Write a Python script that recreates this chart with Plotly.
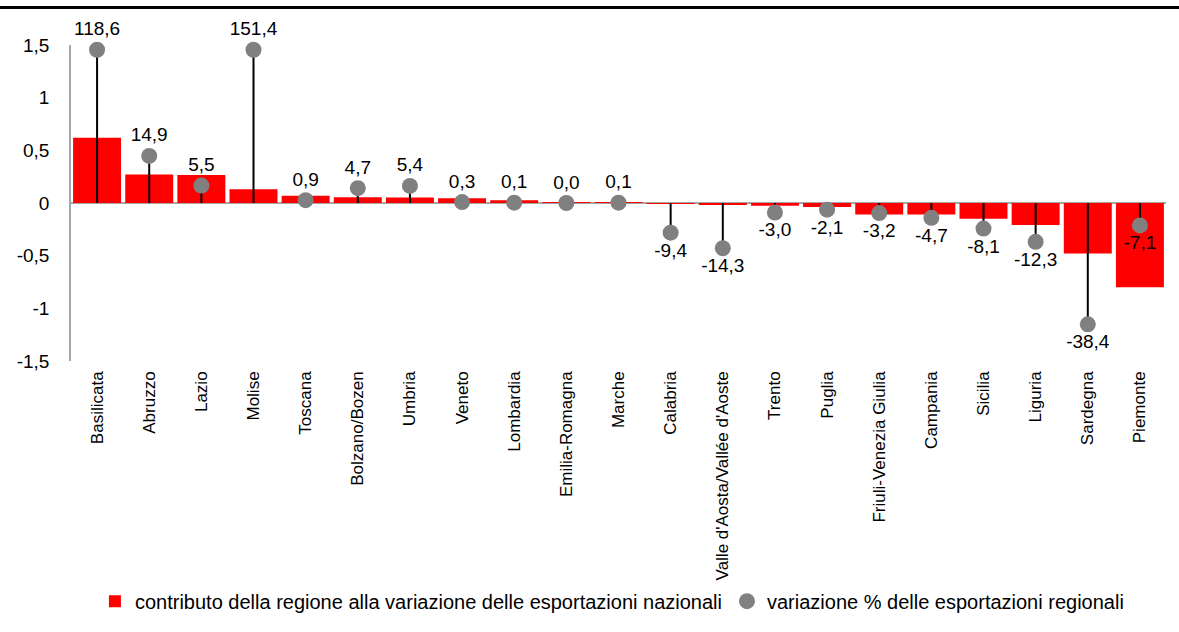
import plotly.graph_objects as go
import numpy as np

regions = ["Basilicata", "Abruzzo", "Lazio", "Molise", "Toscana", "Bolzano/Bozen",
           "Umbria", "Veneto", "Lombardia", "Emilia-Romagna", "Marche", "Calabria",
           "Valle d'Aosta/Vallée d'Aoste", "Trento", "Puglia", "Friuli-Venezia Giulia",
           "Campania", "Sicilia", "Liguria", "Sardegna", "Piemonte"]
contributo = [0.62, 0.27, 0.265, 0.13, 0.07, 0.055, 0.052, 0.044, 0.025, 0.005, 0.003,
              -0.005, -0.02, -0.025, -0.037, -0.11, -0.11, -0.15, -0.21, -0.48, -0.80]
variazione = [118.6, 14.9, 5.5, 151.4, 0.9, 4.7, 5.4, 0.3, 0.1, 0.0, 0.1, -9.4,
              -14.3, -3.0, -2.1, -3.2, -4.7, -8.1, -12.3, -38.4, -7.1]

y1_ticks = [-1.5, -1, -0.5, 0, 0.5, 1, 1.5]
y1_ticktext = ["-1,5", "-1", "-0,5", "0", "0,5", "1", "1,5"]
y2_range = [-50, 50]

FONT = "Liberation Sans, Arial, sans-serif"

var = np.array(variazione)
var_plot = np.clip(var, -48.5, 48.5)
labels = [f"{v:.1f}".replace(".", ",") for v in variazione]

# drop lines
lx, ly = [], []
for r, v in zip(regions, var_plot):
    lx += [r, r, None]
    ly += [0, v, None]

fig = go.Figure()
fig.add_trace(go.Bar(
    x=regions, y=contributo, marker=dict(color="#ff0000", line=dict(width=0)),
    name="contributo della regione alla variazione delle esportazioni nazionali",
    yaxis="y"))
fig.add_trace(go.Scatter(
    x=lx, y=ly, mode="lines", line=dict(color="black", width=2),
    showlegend=False, yaxis="y2", hoverinfo="skip", cliponaxis=False))
fig.add_trace(go.Scatter(
    x=regions, y=var_plot, mode="markers",
    marker=dict(color="#808080", size=16),
    name="variazione % delle esportazioni regionali",
    yaxis="y2", cliponaxis=False))
pos = [i for i, v in enumerate(variazione) if v >= 0]
neg = [i for i, v in enumerate(variazione) if v < 0]
for idx, tp in ((pos, "top center"), (neg, "bottom center")):
    fig.add_trace(go.Scatter(
        x=[regions[i] for i in idx], y=[var_plot[i] for i in idx],
        text=[labels[i] for i in idx], mode="markers+text", textposition=tp,
        marker=dict(size=14, color="rgba(0,0,0,0)"),
        textfont=dict(family=FONT, size=19, color="black"),
        showlegend=False, yaxis="y2", cliponaxis=False, hoverinfo="skip"))

fig.update_layout(
    width=1179, height=632,
    margin=dict(l=71, r=13, t=45, b=260),
    paper_bgcolor="white", plot_bgcolor="white",
    font=dict(family=FONT, size=19, color="black"),
    bargap=0.08,
    showlegend=True,
    legend=dict(orientation="h", x=0.494, xanchor="center", y=-0.76, yanchor="middle",
                font=dict(size=20), itemwidth=30, traceorder="normal",
                bgcolor="rgba(0,0,0,0)"),
    xaxis=dict(type="category", range=[-0.5, 20.5], tickangle=-90,
               showgrid=False, showline=False, ticks="", ticklabelstandoff=6,
               tickfont=dict(size=17)),
    yaxis=dict(range=[-1.5, 1.5], tickvals=y1_ticks, ticktext=y1_ticktext,
               showgrid=False, showline=True, linecolor="#a6a6a6", linewidth=1.5,
               zeroline=True, zerolinecolor="#a6a6a6", zerolinewidth=2,
               ticks="", ticklabelstandoff=16, tickfont=dict(size=19)),
    yaxis2=dict(range=y2_range, overlaying="y", visible=False, showgrid=False,
                zeroline=False),
    shapes=[dict(type="line", xref="paper", yref="paper",
                 x0=-0.07, x1=1.02, y0=1.119, y1=1.119,
                 line=dict(color="black", width=3))],
)

fig.write_html("out.html", config={"displayModeBar": False},
               post_script="document.body.style.margin='0';document.body.style.overflow='hidden';")
